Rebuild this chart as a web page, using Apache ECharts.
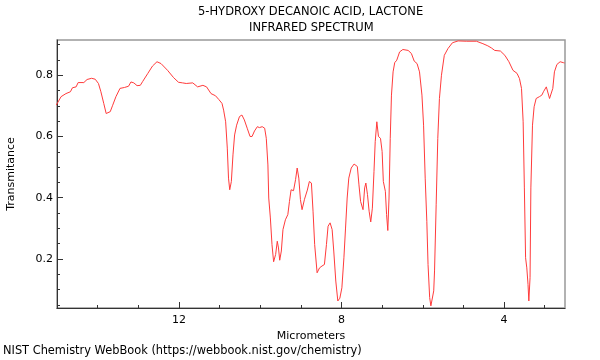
<!DOCTYPE html>
<html>
<head>
<meta charset="utf-8">
<script src="https://cdn.jsdelivr.net/npm/echarts@6/dist/echarts.min.js"></script>
<style>html,body{margin:0;padding:0;background:#fff}#c{width:600px;height:360px}</style>
</head>
<body>
<div id="c"></div>
<script>
const titleLines = ['5-HYDROXY DECANOIC ACID, LACTONE', 'INFRARED SPECTRUM'];
const footerText = 'NIST Chemistry WebBook (https://webbook.nist.gov/chemistry)';
const xName = 'Micrometers';
const yName = 'Transmitance';
const xMajorTicks = [4, 8, 12];
const xMinorTicks = [3, 5, 6, 7, 9, 10, 11, 13, 14, 15];
const yMajorTicks = [0.2, 0.4, 0.6, 0.8];
const yMinorTicks = [0.05, 0.1, 0.15, 0.25, 0.3, 0.35, 0.45, 0.5, 0.55, 0.65, 0.7, 0.75, 0.85, 0.9];

const wavelength = [
15.02,14.90,14.78,14.67,14.62,14.53,14.48,14.34,14.26,14.15,14.06,13.98,13.92,13.85,13.79,13.75,13.69,13.63,13.55,13.45,
13.34,13.24,13.18,13.11,13.03,12.95,12.89,12.77,12.65,12.54,12.44,12.28,12.13,12.01,11.91,11.82,11.66,11.54,11.41,11.32,
11.21,11.10,11.02,10.94,10.90,10.85,10.81,10.78,10.75,10.71,10.67,10.63,10.58,10.51,10.45,10.39,10.32,10.25,10.20,10.14,
10.07,10.02,9.95,9.89,9.85,9.81,9.79,9.75,9.71,9.67,9.62,9.58,9.55,9.52,9.48,9.44,9.38,9.32,9.28,9.24,
9.18,9.13,9.09,9.05,9.01,8.97,8.91,8.84,8.79,8.74,8.70,8.66,8.60,8.54,8.48,8.42,8.37,8.33,8.28,8.23,
8.19,8.14,8.09,8.04,7.99,7.94,7.90,7.86,7.82,7.76,7.69,7.65,7.61,7.57,7.53,7.47,7.43,7.40,7.36,7.32,
7.28,7.24,7.20,7.17,7.13,7.09,7.04,7.00,6.97,6.92,6.89,6.86,6.83,6.80,6.77,6.73,6.69,6.64,6.57,6.49,
6.36,6.28,6.21,6.14,6.08,6.02,5.98,5.94,5.90,5.87,5.83,5.80,5.76,5.73,5.71,5.67,5.63,5.59,5.54,5.47,
5.38,5.27,5.13,4.93,4.68,4.52,4.40,4.31,4.23,4.09,3.98,3.88,3.78,3.68,3.62,3.57,3.53,3.50,3.47,3.44,
3.41,3.39,3.36,3.34,3.30,3.26,3.21,3.13,3.07,3.03,2.96,2.92,2.88,2.84,2.80,2.76,2.70,2.62,2.54,2.51
];
const transmittance = [
0.702,0.730,0.740,0.746,0.759,0.762,0.776,0.776,0.786,0.790,0.787,0.773,0.746,0.708,0.675,0.669,0.681,0.702,0.730,0.757,
0.760,0.764,0.778,0.775,0.766,0.767,0.780,0.805,0.830,0.844,0.838,0.816,0.792,0.777,0.775,0.773,0.775,0.762,0.767,0.762,
0.740,0.733,0.721,0.708,0.686,0.648,0.562,0.464,0.426,0.453,0.540,0.605,0.637,0.665,0.670,0.654,0.627,0.600,0.600,0.618,
0.632,0.629,0.632,0.627,0.594,0.507,0.399,0.334,0.247,0.191,0.215,0.258,0.236,0.196,0.226,0.296,0.328,0.345,0.388,0.426,
0.423,0.459,0.497,0.464,0.394,0.361,0.395,0.425,0.453,0.448,0.356,0.247,0.155,0.171,0.177,0.182,0.247,0.307,0.318,0.296,
0.226,0.128,0.063,0.072,0.106,0.204,0.301,0.399,0.464,0.497,0.510,0.516,0.502,0.442,0.388,0.361,0.432,0.448,0.410,0.356,
0.321,0.366,0.486,0.583,0.648,0.600,0.594,0.551,0.453,0.421,0.345,0.293,0.399,0.594,0.735,0.811,0.841,0.849,0.876,0.884,
0.881,0.871,0.846,0.838,0.811,0.735,0.637,0.464,0.323,0.182,0.074,0.047,0.047,0.096,0.161,0.377,0.594,0.724,0.800,0.865,
0.887,0.906,0.912,0.911,0.911,0.903,0.896,0.889,0.881,0.879,0.865,0.844,0.816,0.806,0.789,0.757,0.648,0.432,0.204,0.171,
0.117,0.063,0.139,0.432,0.637,0.697,0.724,0.730,0.735,0.746,0.762,0.757,0.724,0.719,0.757,0.811,0.835,0.844,0.841,0.840
];

const FONT = 'DejaVu Sans';
const TITLE_SIZE = 11.5;
const xMin = 2.5, xMax = 15, yMin = 0.04, yMax = 0.915;
const chart = echarts.init(document.getElementById('c'), null, {renderer: 'canvas'});
const data = wavelength.map((w, i) => [w, transmittance[i]]);

chart.setOption({
  animation: false,
  backgroundColor: '#fff',
  textStyle: {fontFamily: FONT},
  grid: {left: 57, right: 35, top: 40, bottom: 52, show: true, borderColor: '#999', borderWidth: 1.5,
         backgroundColor: 'transparent', containLabel: false, outerBoundsMode: 'none'},
  graphic: [
    {type: 'text', left: 'center', top: 6, style: {text: titleLines[0], fill: '#000', fontSize: TITLE_SIZE, fontFamily: FONT}, z: 10, id: 't1'},
    {type: 'text', left: 'center', top: 22, style: {text: titleLines[1], fill: '#000', fontSize: TITLE_SIZE, fontFamily: FONT}, z: 10, id: 't2'},
    {type: 'text', left: 3, top: 346, style: {text: footerText, fill: '#000', fontSize: 11.4, fontFamily: FONT}, z: 10}
  ],
  xAxis: [
    {type: 'value', inverse: true, min: xMin, max: xMax, position: 'bottom',
     name: xName, nameLocation: 'middle', nameGap: 21,
     nameTextStyle: {color: '#000', fontSize: 11, fontFamily: FONT},
     axisLine: {show: true, lineStyle: {color: '#333', width: 1}},
     axisTick: {show: true, inside: true, length: 6, customValues: xMajorTicks, lineStyle: {color: '#333'}},
     axisLabel: {show: true, customValues: xMajorTicks, color: '#000', fontSize: 11, margin: 7, fontFamily: FONT},
     splitLine: {show: false}},
    {type: 'value', inverse: true, min: xMin, max: xMax, position: 'bottom',
     axisLine: {show: false},
     axisTick: {show: true, inside: true, length: 3, customValues: xMinorTicks, lineStyle: {color: '#333'}},
     axisLabel: {show: false}, splitLine: {show: false}}
  ],
  yAxis: [
    {type: 'value', min: yMin, max: yMax, position: 'left',
     name: yName, nameLocation: 'middle', nameGap: 40,
     nameTextStyle: {color: '#000', fontSize: 11, fontFamily: FONT},
     axisLine: {show: true, lineStyle: {color: '#333', width: 1}},
     axisTick: {show: true, inside: true, length: 6, customValues: yMajorTicks, lineStyle: {color: '#333'}},
     axisLabel: {show: true, customValues: yMajorTicks, color: '#000', fontSize: 11, margin: 4, fontFamily: FONT,
                 formatter: v => v.toFixed(1)},
     splitLine: {show: false}},
    {type: 'value', min: yMin, max: yMax, position: 'left',
     axisLine: {show: false},
     axisTick: {show: true, inside: true, length: 3, customValues: yMinorTicks, lineStyle: {color: '#333'}},
     axisLabel: {show: false}, splitLine: {show: false}}
  ],
  series: [{
    type: 'line', xAxisIndex: 0, yAxisIndex: 0, data: data,
    showSymbol: false, symbol: 'none', smooth: false,
    lineStyle: {color: '#ff3b3b', width: 1},
    clip: true
  }]
});

// center title lines over the plot (x = 311)
['t1','t2'].forEach((id, i) => {
  const ctx = document.createElement('canvas').getContext('2d');
  ctx.font = TITLE_SIZE + 'px "DejaVu Sans"';
  const w = ctx.measureText(titleLines[i]).width;
  chart.setOption({graphic: [{id: id, left: Math.round(311 - w / 2)}]});
});
</script>
</body>
</html>
